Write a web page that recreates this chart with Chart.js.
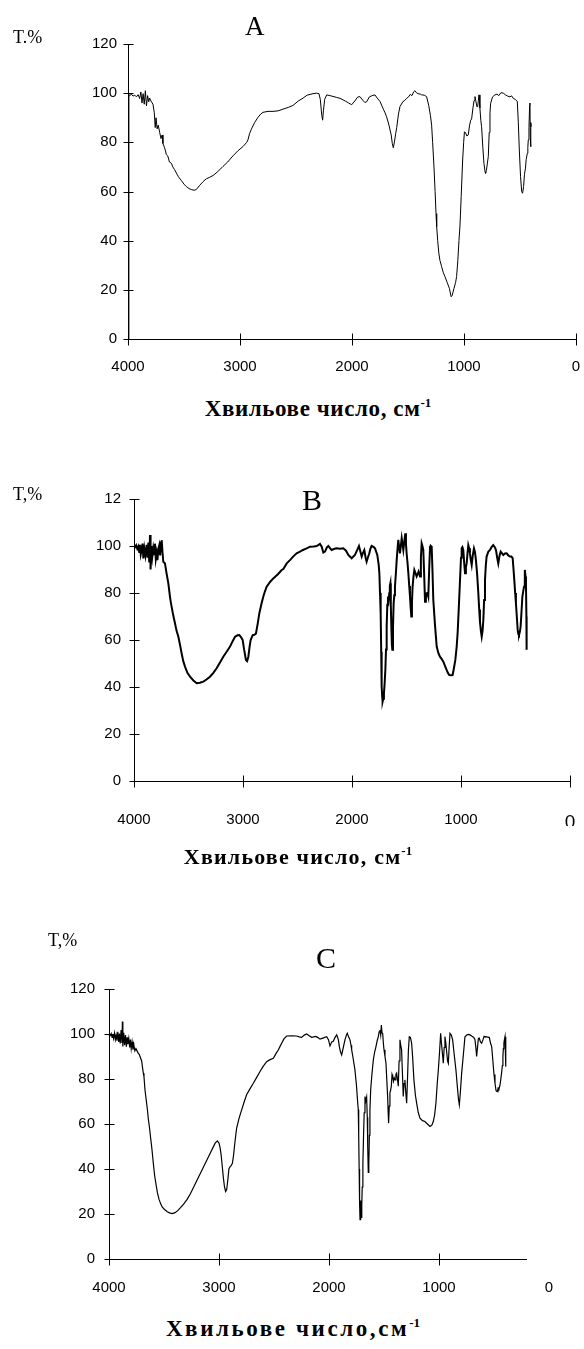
<!DOCTYPE html>
<html><head><meta charset="utf-8">
<script src="https://cdn.jsdelivr.net/npm/chart.js@4.4.0/dist/chart.umd.min.js"></script>
<style>
html,body{margin:0;padding:0;background:#fff;}
body{width:584px;height:1349px;position:relative;overflow:hidden;}
canvas{position:absolute;left:0;}
.t{position:absolute;font-family:"Liberation Serif","Times New Roman",serif;color:#000;white-space:nowrap;line-height:1;}
.ttl{font-weight:bold;width:400px;text-align:center;}
.ttl sup{font-size:13px;vertical-align:0;position:relative;top:-9px;letter-spacing:0;}
</style></head><body>
<canvas id="cA" width="584" height="390" style="top:0px"></canvas>
<canvas id="cB" width="584" height="400" style="top:450px"></canvas>
<canvas id="cC" width="584" height="370" style="top:940px"></canvas>

<div class="t" style="left:13px;top:28px;font-size:18px">T.%</div>
<div class="t" style="left:245px;top:13px;font-size:27px">A</div>
<div class="t ttl" style="left:118px;top:397px;font-size:23px;letter-spacing:0.6px">Хвильове число, см<sup>-1</sup></div>

<div class="t" style="left:13px;top:485px;font-size:18px">T,%</div>
<div class="t" style="left:302px;top:485px;font-size:30px">B</div>
<div class="t ttl" style="left:98px;top:846px;font-size:22px;letter-spacing:1.2px">Хвильове число, см<sup>-1</sup></div>

<div class="t" style="left:48px;top:931px;font-size:18px">T,%</div>
<div class="t" style="left:316px;top:943px;font-size:30px">C</div>
<div class="t ttl" style="left:93px;top:1317px;font-size:23px;letter-spacing:2.6px">Хвильове число,см<sup>-1</sup></div>

<script>
// ---- data: [wavenumber (cm-1), transmittance (%)] ----
const spectrumA = [
[3993,0],[3992,99.5],[3985,99],[3970,99.6],[3955,98.8],[3940,99.2],[3925,98.5],[3910,99.4],[3896,97.8],[3885,100.5],
[3875,96],[3865,99.8],[3855,95.5],[3845,101],[3835,94.8],[3825,99],[3815,96.5],[3807,98],[3795,96.8],[3777,95.5],
[3765,92],[3757,86],[3750,90],[3740,85.5],[3730,87],[3717,84],[3705,81.5],[3695,83],[3688,79.5],[3675,78],
[3665,76.5],[3658,75],[3645,74.5],[3630,72],[3613,71.5],[3600,70],[3585,69],[3568,67.5],[3550,66],[3524,64.5],
[3500,63],[3479,62],[3455,61.2],[3435,60.8],[3410,60.5],[3390,60.8],[3360,62.5],[3330,64],[3300,65.2],[3270,65.8],
[3241,66.5],[3200,68],[3152,70.2],[3110,72],[3063,74.5],[3020,76.5],[2973,78.3],[2940,80],[2929,81],[2915,83.5],
[2899,85.3],[2870,88],[2839,90.2],[2815,91.5],[2795,92.2],[2750,92.6],[2705,92.6],[2660,92.8],[2616,93.5],[2570,94.2],
[2527,95],[2480,96.8],[2437,98],[2400,99.2],[2348,99.8],[2316,100],[2295,99.8],[2283,97.5],[2270,91],[2262,89],
[2255,93],[2244,97.5],[2226,99.3],[2180,98.8],[2140,98.3],[2107,97.9],[2060,96.8],[2030,96],[2003,95.3],[1975,96.8],
[1950,98.4],[1929,98.6],[1905,97.2],[1885,96.2],[1869,96.5],[1845,98.5],[1820,99],[1795,99.3],[1775,98],[1750,96.6],
[1720,93.5],[1705,92],[1691,90.4],[1670,87],[1650,83],[1640,79.5],[1631,77.8],[1620,80.5],[1610,83.5],[1601,86],
[1585,91.5],[1572,94.5],[1545,96.6],[1530,97],[1512,97.9],[1495,98.5],[1480,99.5],[1465,99],[1450,100.5],[1438,101],
[1425,100.2],[1410,99.8],[1390,99.6],[1378,99.3],[1355,99.2],[1334,98.6],[1315,95],[1300,91],[1289,87],[1280,80],
[1268,70],[1258,60],[1250,51],[1244,45.7],[1235,40],[1225,35],[1215,32],[1200,29.5],[1185,27],[1170,25.4],
[1150,23],[1130,20.5],[1115,17.2],[1105,17.8],[1090,20.5],[1075,23],[1066,25.4],[1055,32],[1045,40],[1036,46],
[1025,58],[1012,72.8],[1003,80],[996,84.3],[985,83.8],[975,82.6],[962,83],[950,87],[940,89],[932,89.5],
[920,94],[910,97],[902,98.6],[895,97],[885,94.5],[878,94.5],[872,97],[866,99.3],[858,94],[850,89],
[843,86.4],[832,78],[822,71.5],[812,68],[807,67.4],[800,68.5],[790,72],[783,74.2],[775,84],[768,92],
[762,95.9],[745,98.5],[724,99.3],[705,99.6],[690,99],[670,100.2],[649,100],[630,99.3],[610,98.8],[590,98.5],
[575,98.9],[560,97.9],[540,97.4],[524,96.6],[515,88],[506,76.9],[495,66],[485,60],[477,59.3],[468,62],
[460,67],[451,69.5],[445,73],[435,75.5],[430,78],[426,81],[420,86],[414,95],[411,96],[408,82],
[405,78.2],[402,88],[399,86.4]
];
const spectrumB = [
[4000,100],[3990,99.5],[3980,100.3],[3970,98.8],[3960,99.8],[3952,97.5],[3945,100.5],[3938,96.5],[3930,98.3],[3922,101],
[3914,94.7],[3905,99],[3895,96],[3884,100.5],[3875,95],[3868,101.5],[3860,93],[3853,104.7],[3848,90],[3840,100],
[3832,95.5],[3823,99],[3815,96.5],[3808,101],[3800,94.5],[3792,97],[3785,94],[3776,99],[3768,100.4],[3760,96],
[3752,101.5],[3746,102.5],[3738,97],[3731,93.3],[3716,92.6],[3700,88],[3685,84.1],[3670,78.5],[3662,76],[3655,74.2],
[3640,70.5],[3624,67.1],[3610,64],[3593,61.4],[3578,58],[3563,54.3],[3548,51],[3532,48.7],[3510,46],[3486,44.4],
[3455,42.8],[3425,41.6],[3395,41.8],[3364,42.3],[3335,43.2],[3303,44.4],[3272,46],[3242,48],[3210,50.5],[3181,52.9],
[3150,55],[3119,57.2],[3095,59.5],[3073,61.4],[3050,62],[3034,62.1],[3018,61.2],[3003,60],[2990,56],[2973,51.5],
[2962,51],[2951,52.9],[2940,57],[2930,60],[2911,62.1],[2895,62.2],[2881,62.8],[2865,67],[2850,71.4],[2830,75.5],
[2814,78.4],[2800,80.5],[2783,82.7],[2750,84.8],[2722,86.2],[2680,88],[2645,89.8],[2630,90.2],[2599,92.6],[2569,94],
[2540,95.5],[2508,96.9],[2477,97.6],[2450,98.3],[2416,99],[2385,99.7],[2350,99.8],[2324,100],[2294,100.9],[2278,99.7],
[2263,97.2],[2248,97.6],[2230,99.4],[2217,100],[2200,99],[2187,98.3],[2160,98.8],[2141,99],[2110,98.8],[2080,99],
[2055,98],[2034,96.2],[2003,94.8],[1973,96.2],[1955,98],[1936,100],[1925,98],[1911,95.5],[1900,97],[1887,98.3],
[1875,95],[1866,93.3],[1855,95],[1841,96.9],[1830,99],[1820,100],[1800,99.5],[1789,99],[1768,96.2],[1755,92],
[1749,88.4],[1743,80],[1737,71.4],[1732,55],[1728,40.2],[1723,36],[1719,33.8],[1713,35],[1707,37.3],[1700,42],
[1694,47.3],[1688,56],[1682,65.7],[1676,75],[1670,78.5],[1664,77],[1658,79.9],[1653,83],[1648,84.1],[1644,75],
[1639,65.7],[1634,58],[1630,55.8],[1624,65],[1618,75.6],[1612,79],[1606,82.7],[1598,88],[1590,94],[1582,99],
[1575,102.6],[1568,99.5],[1560,96.9],[1552,100],[1544,103.3],[1537,101],[1529,98.3],[1520,102],[1511,105.4],[1505,101],
[1499,96.9],[1491,93],[1483,88.4],[1475,83],[1468,78.5],[1462,74],[1456,70],[1450,76],[1444,82.7],[1436,87],
[1428,89.8],[1418,88.5],[1407,87],[1398,88],[1389,89.1],[1382,88],[1376,87],[1368,95],[1361,101.1],[1354,100],
[1346,98.3],[1338,88],[1330,76.3],[1322,78],[1315,79.9],[1308,80],[1300,78.5],[1292,90],[1284,99.7],[1276,100],
[1269,99.7],[1262,90],[1254,77],[1238,66],[1223,57.2],[1208,54.5],[1193,52.9],[1178,52],[1162,50.8],[1147,49],
[1132,47.3],[1120,46],[1107,45.1],[1092,45],[1077,45.1],[1065,48],[1052,51.5],[1040,57],[1031,62.9],[1020,74],
[1009,85.5],[1000,95],[994,99],[987,99.5],[979,98.3],[971,93],[963,88.4],[955,91],[948,92.6],[940,97],
[933,100.4],[925,99],[918,96.9],[910,94],[902,91.9],[892,96],[881,99],[872,97.5],[863,94],[852,88],
[841,79.9],[833,73],[826,67.8],[818,64],[810,61.4],[802,64],[795,68.5],[788,77],[780,85.5],[772,92],
[765,95.5],[750,97.5],[734,98.3],[720,99.5],[704,100.4],[690,99.5],[679,98.3],[668,95],[658,92.6],[648,95.5],
[636,97.6],[625,97],[612,96.2],[597,96.8],[581,96.9],[566,96],[551,95.5],[538,95.5],[526,94.8],[518,90],
[511,85.5],[503,80],[496,75.6],[488,70],[480,64.3],[474,62.5],[468,62.1],[460,63.5],[453,65.7],[445,72],
[437,78.5],[430,80.5],[422,82.7],[416,88],[413,89.8],[408,87],[404,84.1],[400,70],[398,55.8]
];
const spectrumC = [
[4000,99.6],[3990,99.2],[3980,100.2],[3972,98.5],[3965,99.8],[3958,98],[3950,100.4],[3942,97.6],[3935,99.5],[3928,97],
[3920,101],[3912,96.5],[3905,100.2],[3898,95.8],[3890,101.8],[3882,96],[3878,105.5],[3874,94.5],[3866,100.5],[3858,95],
[3850,99.5],[3842,94.4],[3835,98.5],[3828,95.5],[3820,98],[3812,94],[3805,97.5],[3798,93.5],[3790,96.5],[3782,93],
[3775,95.5],[3765,92.5],[3755,93.5],[3745,92.5],[3735,91.5],[3725,91],[3718,90],[3703,88],[3695,85],[3688,82.6],
[3682,81],[3673,75.2],[3665,72],[3658,69.2],[3650,66],[3642,62],[3633,58.9],[3622,54],[3610,49],[3598,43],
[3585,37],[3572,33],[3560,29.5],[3545,26.5],[3530,24.5],[3515,23],[3495,22],[3470,21],[3450,20.5],[3425,20.2],
[3400,20.6],[3375,21.5],[3350,22.8],[3320,24.5],[3290,26.5],[3260,29],[3230,32],[3200,35],[3170,38],[3140,41],
[3110,44],[3080,47],[3055,49.5],[3035,51.5],[3015,52.5],[3000,51.5],[2990,49.5],[2980,46],[2970,41],[2960,36],
[2950,32],[2940,30],[2930,31],[2920,35],[2910,40],[2900,41],[2890,41.5],[2878,42.5],[2868,46],[2855,52],
[2840,58.1],[2818,62.5],[2794,66.3],[2770,70],[2749,73],[2720,75.5],[2688,78.1],[2660,80.5],[2627,83.3],[2600,85.5],
[2567,87.7],[2540,88.5],[2506,89.2],[2480,91.5],[2461,92.9],[2445,94.5],[2430,95.9],[2410,97.8],[2385,99.1],[2340,99.2],
[2294,99.1],[2270,98.7],[2249,98.5],[2225,99.5],[2203,100],[2180,99.2],[2158,98.5],[2120,98.9],[2100,98.4],[2082,97.7],
[2050,98.3],[2021,98.8],[2005,97.5],[1991,94.7],[1975,96.5],[1961,96.8],[1945,98.5],[1930,99.6],[1915,97.5],[1906,94.4],
[1895,92],[1885,90.7],[1870,94],[1855,97.4],[1842,99.5],[1834,100.3],[1820,98.5],[1809,97.4],[1800,95],[1794,93],
[1780,89],[1764,84],[1750,77],[1740,70],[1734,66.3],[1730,55],[1726,40],[1722,25],[1718,17.5],[1714,21],
[1710,26],[1706,18.5],[1702,24],[1698,32],[1692,42],[1686,55],[1680,65],[1673,72.2],[1667,70],[1658,72],
[1652,63],[1648,50],[1643,38.5],[1638,42],[1633,55],[1628,66],[1621,75.2],[1610,82],[1597,88.5],[1585,92],
[1573,94.4],[1562,97],[1552,98.8],[1544,101],[1537,101.8],[1530,99.5],[1524,104],[1518,100.5],[1512,100.3],[1506,96],
[1500,93],[1491,90],[1482,87],[1475,80],[1467,72.2],[1462,65],[1458,60.4],[1452,68],[1446,74],[1440,75],
[1433,77],[1427,82],[1421,81],[1414,79],[1407,80.5],[1400,79.6],[1392,82],[1385,82.6],[1378,80],[1370,76.8],
[1363,88],[1355,97.4],[1348,95],[1340,93],[1332,82],[1325,72.2],[1318,78],[1310,79.6],[1302,74],[1294,69.2],
[1285,82],[1278,93],[1270,98.8],[1260,98.5],[1249,96],[1240,90],[1228,79.6],[1215,73],[1203,69.2],[1188,65],
[1173,62.6],[1150,61.5],[1128,61.1],[1105,60],[1082,58.9],[1065,59.5],[1052,61.1],[1040,64],[1028,69.2],[1016,78],
[1006,84],[995,92],[985,100.3],[978,96],[970,92],[961,87],[953,94],[946,98.8],[938,96],[930,92],
[922,88],[915,87],[908,94],[900,100.3],[888,99.5],[876,97.4],[862,91],[846,84],[832,76],[823,71],
[815,68.5],[806,74],[794,82.6],[780,90],[764,98.8],[745,99.6],[730,99.8],[718,99.6],[700,99],[684,98.5],
[673,97.5],[665,94],[658,90],[650,94],[642,98],[634,98.2],[623,96.5],[612,95.9],[600,97.5],[590,99],
[582,98.8],[565,98.7],[550,98.5],[543,98.5],[532,96],[521,94.4],[510,88],[500,82],[491,78.1],[482,75],
[476,74.5],[470,74.4],[462,76],[455,75.5],[446,77],[438,80],[431,82.6],[424,86],[419,90],[415,93.5],
[410,96],[405,97.5],[400,98.8],[395,90],[391,85.5]
];
// tick labels
const xTickValues = [0,1000,2000,3000,4000];
const xTickLabels = ['0','1000','2000','3000','4000'];
const yTickValues = [0,20,40,60,80,100,120];
const yTickLabelsA = ['0','20','40','60','80','100','120'];
const yTickLabelsB = ['0','20','40','60','80','100','12'];
const yTickLabelsC = ['0','20','40','60','80','100','120'];

const SANS = '"Liberation Sans", Arial, sans-serif';

const axesPlugin = {
  id: 'axes',
  beforeDatasetsDraw(chart, args, o) {
    const {ctx, scales: {x, y}} = chart;
    ctx.save();
    ctx.strokeStyle = '#000';
    ctx.lineWidth = 1;
    const x0 = Math.round(x.getPixelForValue(4000)) + 0.5;
    const xEnd = x.getPixelForValue(o.xAxisEnd);
    const yb = Math.round(y.getPixelForValue(0)) + 0.5;
    const yt = y.getPixelForValue(120);
    ctx.beginPath();
    ctx.moveTo(x0, yt); ctx.lineTo(x0, yb);
    ctx.moveTo(x0, yb); ctx.lineTo(xEnd, yb);
    y.ticks.forEach(t => {
      const p = Math.round(y.getPixelForValue(t.value)) + 0.5;
      ctx.moveTo(x0 - 5, p); ctx.lineTo(x0 + 5, p);
    });
    x.ticks.forEach(t => {
      if (t.value < o.xAxisEnd) return;
      const p = Math.round(x.getPixelForValue(t.value)) + 0.5;
      ctx.moveTo(p, yb - 6); ctx.lineTo(p, yb + 6);
    });
    ctx.stroke();
    ctx.restore();
  }
};

function makeChart(id, spectrum, cfg) {
  return new Chart(document.getElementById(id), {
    type: 'scatter',
    data: {
      datasets: [{
        data: spectrum.map(p => ({x: p[0], y: p[1]})),
        showLine: true,
        borderColor: '#000',
        borderWidth: cfg.lineWidth,
        pointRadius: 0,
        tension: 0,
        fill: false,
        clip: 6
      }]
    },
    options: {
      responsive: false,
      animation: false,
      events: [],
      layout: {padding: cfg.padding},
      plugins: {legend: {display: false}, tooltip: {enabled: false}, axes: {xAxisEnd: cfg.xAxisEnd}},
      scales: {
        x: {
          type: 'linear', reverse: true, min: 0, max: 4000,
          afterBuildTicks: s => { s.ticks = xTickValues.map(v => ({value: v})); },
          afterFit: s => { s.height = 45; },
          grid: {display: false, drawTicks: false},
          border: {display: false},
          ticks: {
            padding: cfg.xPad, color: '#000', maxRotation: 0, autoSkip: false,
            font: cfg.xFont,
            callback: v => xTickLabels[xTickValues.indexOf(v)]
          }
        },
        y: {
          type: 'linear', min: 0, max: 120,
          afterBuildTicks: s => { s.ticks = yTickValues.map(v => ({value: v})); },
          afterFit: s => { s.width = 60; },
          grid: {display: false, drawTicks: false},
          border: {display: false},
          ticks: {
            padding: cfg.yPad, color: '#000',
            font: {family: SANS, size: 15},
            callback: v => cfg.yLabels[yTickValues.indexOf(v)]
          }
        }
      }
    },
    plugins: [axesPlugin]
  });
}

makeChart('cA', spectrumA, {
  lineWidth: 1, padding: {left: 68, right: 8, top: 44, bottom: 6},
  xAxisEnd: 0, xPad: 19, yPad: 11, yLabels: yTickLabelsA,
  xFont: {family: SANS, size: 15}
});
makeChart('cB', spectrumB, {
  lineWidth: 2, padding: {left: 74, right: 14, top: 49, bottom: 24},
  xAxisEnd: 0, xPad: 30, yPad: 13, yLabels: yTickLabelsB,
  xFont: ctx => (ctx.tick && ctx.tick.value === 0) ? {family: SANS, size: 19} : {family: SANS, size: 15}
});
makeChart('cC', spectrumC, {
  lineWidth: 1.2, padding: {left: 49, right: 35, top: 49, bottom: 6},
  xAxisEnd: 200, xPad: 20, yPad: 14, yLabels: yTickLabelsC,
  xFont: {family: SANS, size: 15}
});
</script>
</body></html>
